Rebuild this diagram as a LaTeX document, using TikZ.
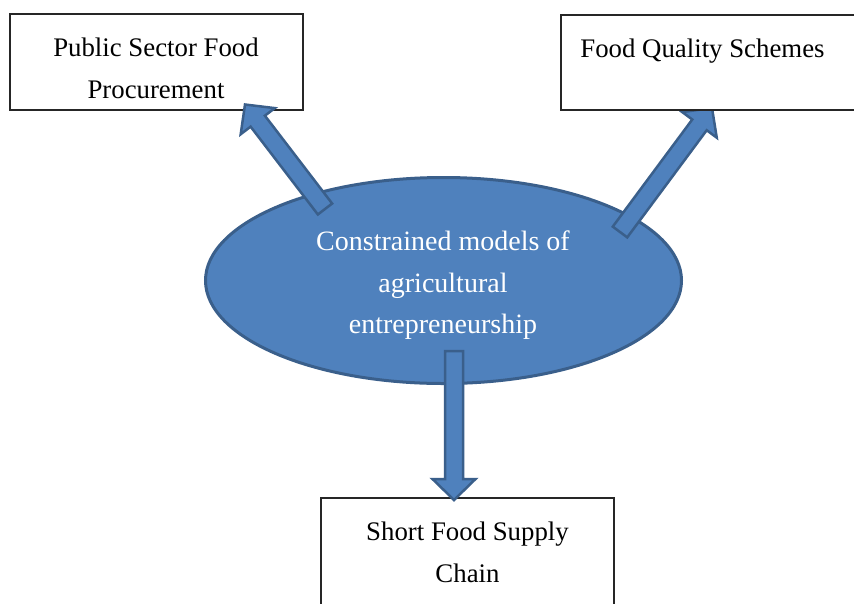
\documentclass[tikz,border=0pt]{standalone}
\usepackage{fontspec}
\setmainfont{Liberation Serif}
\usetikzlibrary{calc,shapes.geometric}

\definecolor{blockfill}{HTML}{4F81BD}
\definecolor{blockline}{HTML}{3A5F8B}

% thick block arrow from a tail coordinate to a tip coordinate
\newcommand{\blockarr}[2]{%
  \coordinate (#1-base) at ($(#2)!21pt!(#1)$);
  \filldraw[blockarrow]
    ($(#1)!9pt!90:(#2)$) -- ($(#1-base)!9pt!90:(#2)$) -- ($(#1-base)!21.5pt!90:(#2)$)
    -- (#2)
    -- ($(#1-base)!21.5pt!-90:(#2)$) -- ($(#1-base)!9pt!-90:(#2)$) -- ($(#1)!9pt!-90:(#2)$)
    -- cycle;}

\tikzset{
  box/.style={draw=black!85, line width=1.4pt, fill=white, rectangle, inner sep=0pt},
  boxtext/.style={font=\fontsize{26.8}{42}\selectfont, align=center, inner sep=0pt, anchor=north},
  hub/.style={ellipse, draw=blockline, fill=blockfill, line width=3pt, inner sep=0pt,
    minimum width=476, minimum height=206},
  hubtext/.style={font=\fontsize{28}{41.5}\selectfont, text=white, align=center, inner sep=0pt, anchor=north},
  blockarrow/.style={fill=blockfill, draw=blockline, line width=2.5pt, line join=miter},
}

\begin{document}
\begin{tikzpicture}[x=1pt, y=-1pt]
  \useasboundingbox (0,0) rectangle (854,603);
  \clip (0,0) rectangle (854,603);
  \fill[white] (0,0) rectangle (854,603);

  % outer boxes lying below the arrows
  \node[box, minimum width=293, minimum height=96] (procure) at (156.5,62) {};
  \node[boxtext] (procuretext) at (156,37.5) {Public Sector Food\\Procurement};
  \node[box, minimum width=293, minimum height=112] (sfsc) at (467.5,554) {};
  \node[boxtext] (sfsctext) at (467.5,521.5) {Short Food Supply\\Chain};

  % central ellipse
  \node[hub] (hub) at (443.5,280.5) {};
  \node[hubtext] (hubtext) at (443,231) {Constrained models of\\agricultural\\entrepreneurship};

  % block arrows out of the ellipse
  \coordinate (a1tail) at (325,209);
  \coordinate (a1tip) at (245,104.5);
  \coordinate (a2tail) at (620,232);
  \coordinate (a2tip) at (712,108);
  \coordinate (a3tail) at (454,351);
  \coordinate (a3tip) at (454,500);
  \blockarr{a1tail}{a1tip}
  \blockarr{a2tail}{a2tip}
  \blockarr{a3tail}{a3tip}

  % box covering the head of the right arrow
  \node[box, minimum width=299, minimum height=95] (quality) at (710.5,62.5) {};
  \node[boxtext] (qualitytext) at (702.5,38.5) {Food Quality Schemes};
\end{tikzpicture}
\end{document}
